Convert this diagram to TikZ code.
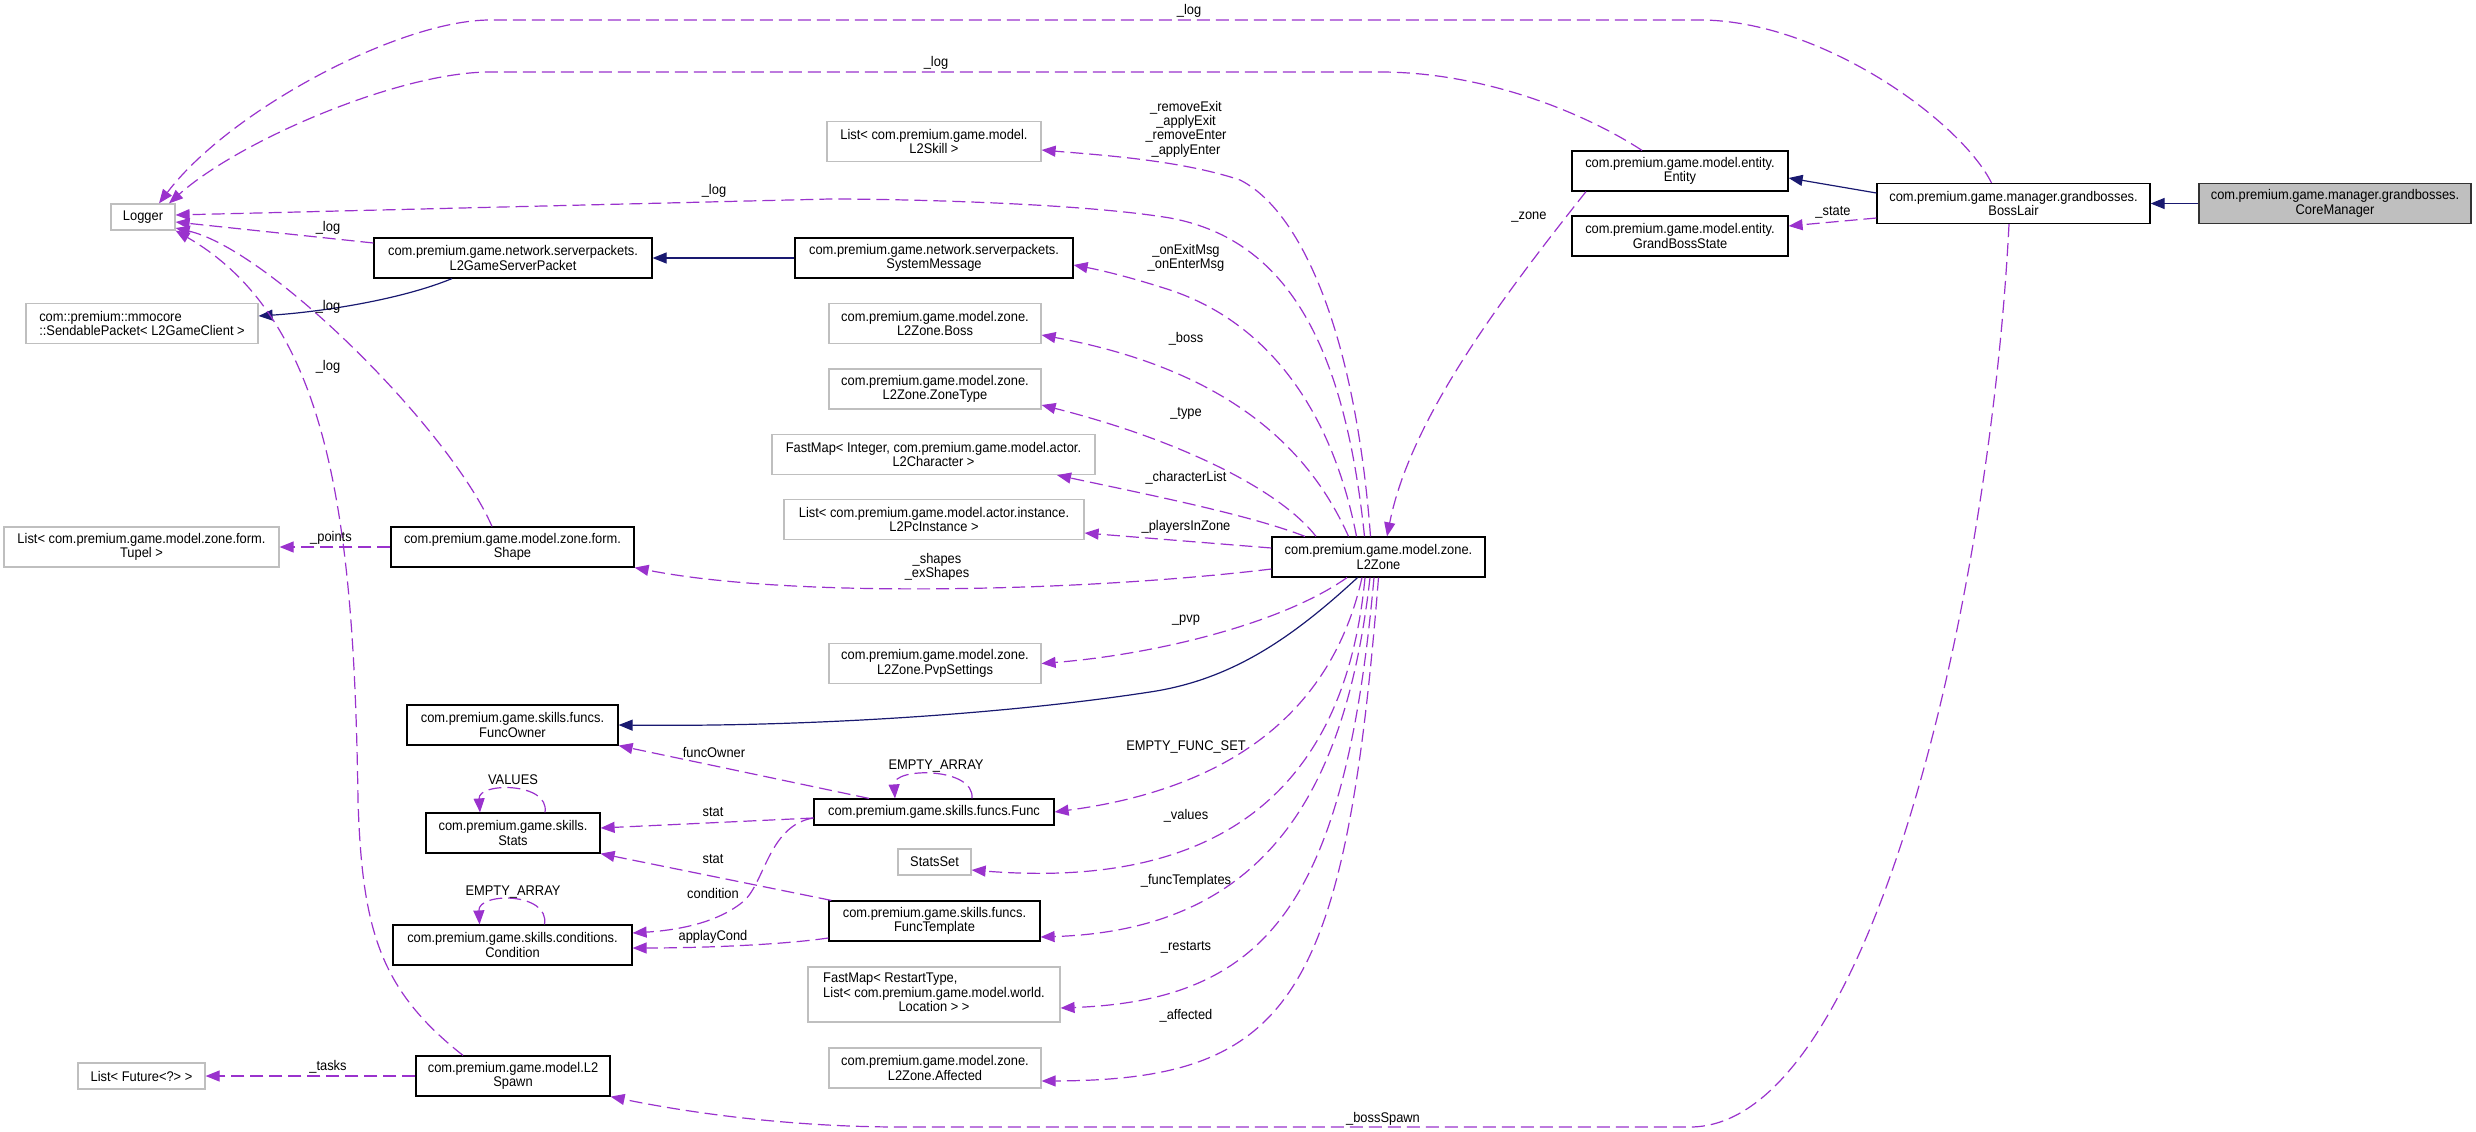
\documentclass[tikz,border=0pt]{standalone}
\usepackage{fontspec}
\setmainfont{Liberation Sans}[FakeStretch=0.92]
\usepackage{xcolor}
\definecolor{orchid}{HTML}{9A32CD}
\definecolor{midnight}{HTML}{191970}
\definecolor{boxgray}{HTML}{BFBFBF}
\usepackage{tikz}
\usetikzlibrary{arrows.meta}
\newcommand{\dxfont}{\fontsize{14pt}{14.3pt}\selectfont}

\begin{document}
\begin{tikzpicture}[x=1pt, y=-1pt, >={Triangle[length=14pt,width=11pt]}, font=\dxfont]
	\useasboundingbox (0,0) rectangle (2476,1132);
	% ------------------------------------------------------------------
	% STYLE DEFINITIONS
	% ------------------------------------------------------------------
	\tikzset{
		cls/.style = {draw=black, fill=white, line width=1.2pt, align=center,
			inner xsep=5pt, inner ysep=3pt, minimum height=40pt},
		ext/.style = {cls, draw=boxgray},
		cur/.style = {cls, fill=boxgray, draw=black!80},
		inh/.style = {->, line width=1.2pt, midnight},
		use/.style = {->, line width=1.2pt, orchid, dash pattern=on 13pt off 6pt},
		lbl/.style = {inner sep=1pt, align=center}
	}
	
	% ------------------------------------------------------------------
	% CLASSES
	% ------------------------------------------------------------------
	% --- left column ---
	\node[ext, minimum width=64pt, minimum height=26pt] (logger) at (143,217) {Logger};
	\node[ext, minimum width=232pt, align=left] (sendable) at (142,323.5) {com::premium::mmocore\\::SendablePacket< L2GameClient >};
	\node[ext, minimum width=275pt] (tupel) at (141.5,547) {List< com.premium.game.model.zone.form.\\Tupel >};
	\node[ext, minimum width=127pt, minimum height=26pt] (future) at (141.5,1076) {List< Future<?> >};
	
	% --- second column ---
	\node[cls, minimum width=278pt] (gsp) at (513,258) {com.premium.game.network.serverpackets.\\L2GameServerPacket};
	\node[cls, minimum width=243pt] (shape) at (512.5,547) {com.premium.game.model.zone.form.\\Shape};
	\node[cls, minimum width=211pt] (funcowner) at (512.5,725) {com.premium.game.skills.funcs.\\FuncOwner};
	\node[cls, minimum width=174pt] (stats) at (513,833) {com.premium.game.skills.\\Stats};
	\node[cls, minimum width=239pt] (condition) at (512.5,945) {com.premium.game.skills.conditions.\\Condition};
	\node[cls, minimum width=194pt] (l2spawn) at (513,1076) {com.premium.game.model.L2\\Spawn};
	
	% --- third column ---
	\node[ext, minimum width=214pt] (l2skill) at (934,141.5) {List< com.premium.game.model.\\L2Skill >};
	\node[cls, minimum width=278pt] (sysmsg) at (934,258) {com.premium.game.network.serverpackets.\\SystemMessage};
	\node[ext, minimum width=212pt] (boss) at (935,323.5) {com.premium.game.model.zone.\\L2Zone.Boss};
	\node[ext, minimum width=212pt] (zonetype) at (935,389) {com.premium.game.model.zone.\\L2Zone.ZoneType};
	\node[ext, minimum width=323pt] (charmap) at (933.5,454.5) {FastMap< Integer, com.premium.game.model.actor.\\L2Character >};
	\node[ext, minimum width=300pt] (pclist) at (934,519.5) {List< com.premium.game.model.actor.instance.\\L2PcInstance >};
	\node[ext, minimum width=212pt] (pvp) at (935,663.5) {com.premium.game.model.zone.\\L2Zone.PvpSettings};
	\node[cls, minimum width=240pt, minimum height=26pt] (func) at (934,812) {com.premium.game.skills.funcs.Func};
	\node[ext, minimum width=73pt, minimum height=26pt] (statsset) at (934.5,862) {StatsSet};
	\node[cls, minimum width=211pt] (functempl) at (934.5,921) {com.premium.game.skills.funcs.\\FuncTemplate};
	\node[ext, minimum width=252pt, minimum height=55pt] (restarts) at (934,994.5)
		{\begin{tabular}{@{}l@{}}FastMap< RestartType,\\ List< com.premium.game.model.world.\\\multicolumn{1}{@{}c@{}}{Location > >}\end{tabular}};
	\node[ext, minimum width=212pt] (affected) at (935,1068) {com.premium.game.model.zone.\\L2Zone.Affected};
	
	% --- right part ---
	\node[cls, minimum width=213pt] (l2zone) at (1378.5,557) {com.premium.game.model.zone.\\L2Zone};
	\node[cls, minimum width=216pt] (entity) at (1680,171) {com.premium.game.model.entity.\\Entity};
	\node[cls, minimum width=216pt] (gbstate) at (1680,236) {com.premium.game.model.entity.\\GrandBossState};
	\node[cls, minimum width=273pt] (bosslair) at (2013.5,203.5) {com.premium.game.manager.grandbosses.\\BossLair};
	\node[cur, minimum width=272pt] (coremgr) at (2335,203.5) {com.premium.game.manager.grandbosses.\\CoreManager};
	
	% ------------------------------------------------------------------
	% INHERITANCE
	% ------------------------------------------------------------------
	\draw[inh] (coremgr.west) -- (bosslair.east);
	\draw[inh] ([yshift=10.5pt]bosslair.west) -- ([yshift=-7pt]entity.east);
	\draw[inh] (sysmsg.west) -- (gsp.east);
	\draw[inh] ([xshift=-61pt]gsp.south) .. controls (400,300) and (320,312) .. ([yshift=7.5pt]sendable.east);
	\draw[inh] ([xshift=-21pt]l2zone.south) .. controls (1290,640) and (1230,680) .. (1150,692)
		.. controls (1000,715) and (800,727) .. (funcowner.east);
	
	% ------------------------------------------------------------------
	% USAGE: Logger
	% ------------------------------------------------------------------
	\draw[use] ([xshift=-22pt]bosslair.north) .. controls (1960,120) and (1820,20) .. (1700,20) -- (490,20)
		.. controls (400,20) and (230,110) .. ([xshift=16pt]logger.north);
	\draw[use] ([xshift=-38pt]entity.north) .. controls (1580,110) and (1480,72) .. (1380,72) -- (490,72)
		.. controls (400,72) and (240,140) .. ([xshift=26pt]logger.north);
	\draw[use] ([xshift=-14pt]l2zone.north) .. controls (1345,350) and (1290,240) .. (1170,218)
		.. controls (1080,203) and (900,199) .. (830,199) -- ([yshift=2pt]logger.east);
	\draw[use] ([yshift=15pt]gsp.west) -- ([yshift=-5pt]logger.east);
	\draw[use] ([xshift=-20.5pt]shape.north) .. controls (450,430) and (270,250) .. ([yshift=-11pt]logger.east);
	\draw[use] ([xshift=-50pt]l2spawn.north) .. controls (380,990) and (362,930) .. (358,800)
		.. controls (354,520) and (330,320) .. (logger.south east);
	\node[lbl] (lbLogA) at (1189,11) {\_log};
	\node[lbl] (lbLogB) at (936,63) {\_log};
	\node[lbl] (lbLogC) at (714,191) {\_log};
	\node[lbl] (lbLogD) at (328,228) {\_log};
	\node[lbl] (lbLogE) at (328,307) {\_log};
	\node[lbl] (lbLogF) at (328,367) {\_log};
	
	% ------------------------------------------------------------------
	% USAGE: L2Zone members
	% ------------------------------------------------------------------
	\draw[use] ([xshift=-8pt]l2zone.north) .. controls (1355,330) and (1300,210) .. (1240,180)
		.. controls (1180,160) and (1100,155) .. ([yshift=-8.5pt]l2skill.east);
	\draw[use] ([xshift=-22pt]l2zone.north) .. controls (1330,400) and (1260,320) .. (1170,290)
		.. controls (1130,277) and (1100,270) .. ([yshift=-7pt]sysmsg.east);
	\draw[use] ([xshift=-30pt]l2zone.north) .. controls (1310,450) and (1230,370) .. ([yshift=-11.5pt]boss.east);
	\draw[use] ([xshift=-62.5pt]l2zone.north) .. controls (1280,490) and (1180,440) .. ([yshift=-16pt]zonetype.east);
	\draw[use] ([xshift=-73.5pt]l2zone.north) .. controls (1250,515) and (1150,495) .. ([xshift=123.5pt]charmap.south);
	\draw[use] ([yshift=9pt]l2zone.west) -- ([yshift=-13.5pt]pclist.east);
	\draw[use] ([yshift=-12pt]l2zone.west) .. controls (1100,590) and (800,600) .. (shape.south east);
	\draw[use] ([xshift=-31.5pt]l2zone.south) .. controls (1280,625) and (1150,655) .. (pvp.east);
	\draw[use] ([xshift=-16.5pt]l2zone.south) .. controls (1330,720) and (1220,790) .. (func.east);
	\draw[use] ([xshift=-13.5pt]l2zone.south) .. controls (1345,790) and (1220,890) .. ([yshift=-8pt]statsset.east);
	\draw[use] ([xshift=-8.5pt]l2zone.south) .. controls (1345,800) and (1260,930) .. ([yshift=-16pt]functempl.east);
	\draw[use] ([xshift=-4.5pt]l2zone.south) .. controls (1345,900) and (1270,1000) .. ([yshift=-13.5pt]restarts.east);
	\draw[use] (l2zone.south) .. controls (1345,1000) and (1290,1080) .. ([yshift=-13pt]affected.east);
	\node[lbl] (lbSkill) at (1186,129) {\_removeExit\\\_applyExit\\\_removeEnter\\\_applyEnter};
	\node[lbl] (lbMsg) at (1186,258) {\_onExitMsg\\\_onEnterMsg};
	\node[lbl] (lbBoss) at (1186,339) {\_boss};
	\node[lbl] (lbType) at (1186,413) {\_type};
	\node[lbl] (lbChar) at (1186,478) {\_characterList};
	\node[lbl] (lbPlayers) at (1186,527) {\_playersInZone};
	\node[lbl] (lbShapes) at (937,567) {\_shapes\\\_exShapes};
	\node[lbl] (lbPvp) at (1186,620) {\_pvp};
	\node[lbl] (lbFuncSet) at (1186,747) {EMPTY\_FUNC\_SET};
	\node[lbl] (lbValues) at (1186,816) {\_values};
	\node[lbl] (lbTempl) at (1186,881) {\_funcTemplates};
	\node[lbl] (lbRestarts) at (1186,947) {\_restarts};
	\node[lbl] (lbAffected) at (1186,1016) {\_affected};
	
	% ------------------------------------------------------------------
	% USAGE: Entity / BossLair
	% ------------------------------------------------------------------
	\draw[use] ([xshift=-94pt]entity.south) .. controls (1500,300) and (1410,420) .. ([xshift=8.5pt]l2zone.north);
	\draw[use] ([yshift=-14.5pt]bosslair.west) -- ([yshift=10pt]gbstate.east);
	\draw[use] ([xshift=-4.5pt]bosslair.south) .. controls (1990,600) and (1870,1127) .. (1690,1127) -- (900,1127)
		.. controls (800,1127) and (700,1115) .. (l2spawn.south east);
	\node[lbl] (lbZone) at (1529,217) {\_zone};
	\node[lbl] (lbState) at (1833,212) {\_state};
	\node[lbl] (lbBossSpawn) at (1383,1119) {\_bossSpawn};
	
	% ------------------------------------------------------------------
	% USAGE: skills and shapes
	% ------------------------------------------------------------------
	\draw[use] (shape.west) -- (tupel.east);
	\draw[use] (l2spawn.west) -- (future.east);
	\draw[use] ([xshift=-65pt]func.north) -- (funcowner.south east);
	\draw[use] ([yshift=-6pt]func.west) -- ([yshift=5pt]stats.east);
	\draw[use] ([yshift=-6pt]func.west) .. controls (770,825) and (765,880) .. (745,900)
		.. controls (720,922) and (680,930) .. ([yshift=12pt]condition.east);
	\draw[use] ([xshift=3pt]functempl.north west) -- (stats.south east);
	\draw[use] ([yshift=-17pt]functempl.west) .. controls (780,945) and (700,948) .. ([yshift=-3pt]condition.east);
	% self loops
	\draw[use] ([xshift=32pt]stats.north) .. controls (550,782) and (478,782) .. ([xshift=-33pt]stats.north);
	\draw[use] ([xshift=32pt]condition.north) .. controls (550,892) and (478,892) .. ([xshift=-33pt]condition.north);
	\draw[use] ([xshift=38pt]func.north) .. controls (975,767) and (893,767) .. ([xshift=-39pt]func.north);
	\node[lbl] (lbPoints) at (331,538) {\_points};
	\node[lbl] (lbTasks) at (328,1067) {\_tasks};
	\node[lbl] (lbFuncOwner) at (714,752) {funcOwner};
	\node[lbl] (lbEmptyF) at (936,766) {EMPTY\_ARRAY};
	\node[lbl] (lbStat) at (713,812) {stat};
	\node[lbl] (lbStat2) at (713,859) {stat};
	\node[lbl] (lbCond) at (713,893) {condition};
	\node[lbl] (lbApply) at (713,937) {applayCond};
	\node[lbl] (lbValuesS) at (513,780) {VALUES};
	\node[lbl] (lbEmptyC) at (513,892) {EMPTY\_ARRAY};
	
\end{tikzpicture}
\end{document}
